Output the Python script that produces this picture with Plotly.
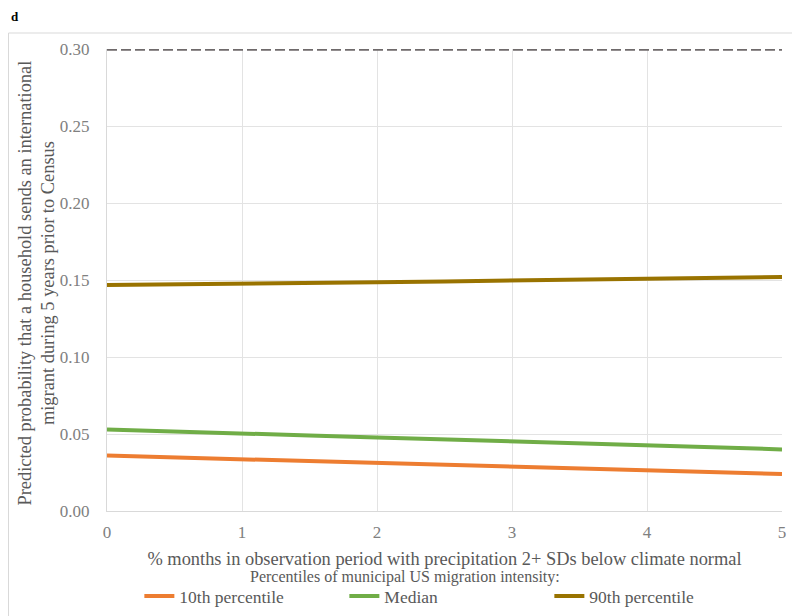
import plotly.graph_objects as go

x_vals = [0, 0.5, 1, 1.5, 2, 2.5, 3, 3.5, 4, 4.5, 5]
p10 = [0.0360, 0.0348, 0.0336, 0.0323, 0.0311, 0.0299, 0.0287, 0.0276, 0.0265, 0.0254, 0.0240]
p50 = [0.0530, 0.0515, 0.0502, 0.0490, 0.0478, 0.0465, 0.0451, 0.0438, 0.0425, 0.0413, 0.0400]
p90 = [0.1468, 0.1471, 0.1474, 0.1479, 0.1485, 0.1491, 0.1497, 0.1503, 0.1509, 0.1514, 0.1519]
ref_x = [0, 5]
ref_y = [0.30, 0.30]

series_names = ["10th percentile", "Median", "90th percentile"]
series_colors = ["#ED7D31", "#70AD47", "#997300"]

FONT = "Liberation Serif"
W, H = 792, 608
L, R, T, B = 99, 18, 41, 105
PW, PH = W - L - R, H - T - B

def px(fx):  # figure pixel x -> paper
    return (fx - L) / PW

def py(fy):  # figure pixel y -> paper
    return 1 - (fy - T) / PH

fig = go.Figure()
for name, ys, col in zip(series_names, [p10, p50, p90], series_colors):
    fig.add_trace(go.Scatter(x=x_vals, y=ys, mode="lines", name=name,
                             line=dict(color=col, width=4)))
fig.add_trace(go.Scatter(x=ref_x, y=ref_y, mode="lines", showlegend=False,
                         line=dict(color="#6f6a6b", width=3.5, dash="10px,4px")))

fig.update_layout(
    width=W, height=H,
    margin=dict(l=L, r=R, t=T, b=B, autoexpand=False),
    paper_bgcolor="white", plot_bgcolor="white",
    font=dict(family=FONT, color="#595959", size=16),
    showlegend=True,
    legend=dict(orientation="h", x=0.5035, xanchor="center", y=py(588), yanchor="middle",
                font=dict(size=17.5, color="#595959"),
                itemwidth=30, entrywidth=160, tracegroupgap=0,
                bgcolor="rgba(0,0,0,0)"),
    xaxis=dict(range=[0, 5], dtick=1, tick0=0, showgrid=True, gridcolor="#e3e3e3", gridwidth=1,
               zeroline=False, showline=True, linecolor="#d9d9d9", linewidth=1,
               ticks="", ticklabelstandoff=6, automargin=False,
               tickfont=dict(size=17, color="#808080"),
               title=dict(text="% months in observation period with precipitation 2+ SDs below climate normal",
                          font=dict(size=18.4, color="#595959"), standoff=10)),
    yaxis=dict(range=[0, 0.30], dtick=0.05, tick0=0, tickformat=".2f", showgrid=True,
               gridcolor="#e3e3e3", gridwidth=1, zeroline=False,
               showline=True, linecolor="#d9d9d9", linewidth=1, ticks="",
               ticklabelstandoff=13, automargin=False,
               tickfont=dict(size=17, color="#808080")),
)

# y axis title
fig.add_annotation(text="Predicted probability that a household sends an international<br>migrant during 5 years prior to Census",
                   xref="paper", yref="paper", x=px(28.5), y=py(275), textangle=-90,
                   xanchor="center", yanchor="middle", showarrow=False,
                   font=dict(family=FONT, size=18.4, color="#595959"))
# legend title
fig.add_annotation(text="Percentiles of municipal US migration intensity:",
                   xref="paper", yref="paper", x=px(397), y=py(569),
                   xanchor="center", yanchor="middle", showarrow=False,
                   font=dict(family=FONT, size=16, color="#595959"))
# panel letter
fig.add_annotation(text="<b>d</b>", xref="paper", yref="paper", x=px(1), y=py(9),
                   xanchor="left", yanchor="middle", showarrow=False,
                   font=dict(family=FONT, size=13, color="black"))
fig.add_shape(type="rect", xref="paper", yref="paper",
              x0=px(0.5), x1=px(788), y0=py(620), y1=py(25),
              line=dict(color="#d9d9d9", width=1), fillcolor="rgba(0,0,0,0)", layer="below")

fig.write_html("out.html")
